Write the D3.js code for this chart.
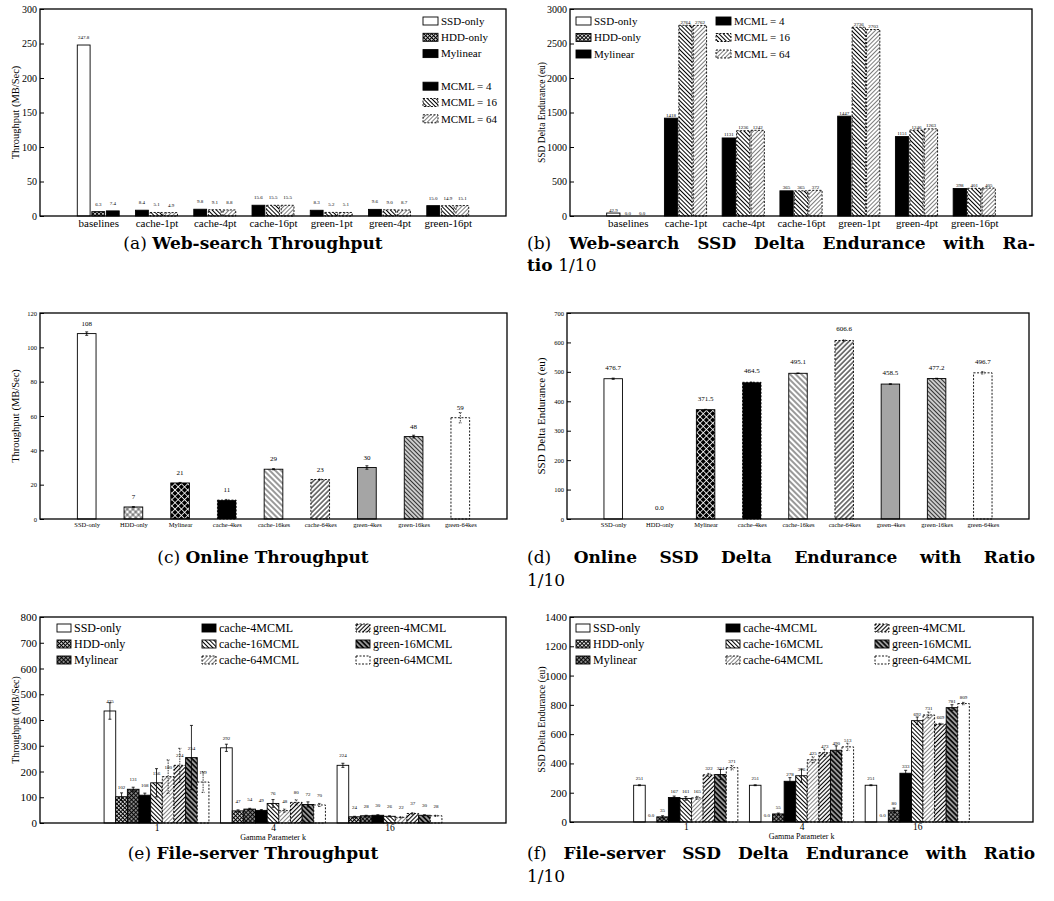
<!DOCTYPE html>
<html>
<head>
<meta charset="utf-8">
<script src="https://cdn.jsdelivr.net/npm/d3@7"></script>
<style>
  body { margin: 0; background: #fff; }
</style>
</head>
<body>
<svg id="fig" width="1054" height="901"></svg>
<script>
// ---- data ----
const webGroups = ["baselines", "cache-1pt", "cache-4pt", "cache-16pt", "green-1pt", "green-4pt", "green-16pt"];
const webKeysBase = ["SSD-only", "HDD-only", "Mylinear"];
const webKeysMcml = ["MCML = 4", "MCML = 16", "MCML = 64"];
const webThroughput = [[247.8, 6.3, 7.4], [8.4, 5.1, 4.9], [9.8, 9.1, 8.8], [15.6, 15.5, 15.5],
                       [8.3, 5.2, 5.1], [9.6, 9.0, 8.7], [15.0, 14.9, 15.1]];
const webEndurance = [[42.9, 0.0, 0.0], [1418, 2764, 2762], [1131, 1236, 1242], [365, 365, 372],
                      [1447, 2736, 2703], [1151, 1246, 1263], [398, 401, 405]];

const onlineCats = ["SSD-only", "HDD-only", "Mylinear", "cache-4kes", "cache-16kes", "cache-64kes", "green-4kes", "green-16kes", "green-64kes"];
const onlineThroughput = [108, 7, 21, 11, 29, 23, 30, 48, 59];
const onlineThroughputErr = [1, 0.2, 0.3, 0.4, 0.3, 0.3, 1, 0.8, 3];
const onlineEndurance = [476.7, 0.0, 371.5, 464.5, 495.1, 606.6, 458.5, 477.2, 496.7];
const onlineEnduranceErr = [2, 0, 1, 1, 1, 2, 1, 1, 4];

const gammaK = ["1", "4", "16"];
const fileSeries = ["SSD-only", "HDD-only", "Mylinear", "cache-4MCML", "cache-16MCML", "cache-64MCML", "green-4MCML", "green-16MCML", "green-64MCML"];
const fileThroughput = [[435, 102, 131, 108, 156, 180, 224, 254, 159],
                        [292, 47, 54, 49, 76, 48, 80, 72, 70],
                        [224, 24, 28, 30, 26, 22, 37, 30, 28]];
const fileThroughputErr = [[32, 15, 8, 8, 55, 65, 66, 125, 40],
                           [14, 4, 3, 3, 15, 6, 10, 10, 6],
                           [8, 2, 2, 2, 2, 2, 3, 2, 2]];
const fileEndurance = [[251, 0, 35, 167, 161, 165, 322, 324, 371],
                       [251, 0, 55, 278, 316, 425, 473, 490, 513],
                       [251, 0, 80, 333, 692, 731, 669, 781, 809]];
const fileEnduranceErr = [[3, 0, 8, 10, 12, 10, 10, 35, 15],
                          [3, 0, 6, 25, 45, 20, 25, 30, 25],
                          [3, 0, 15, 20, 25, 20, 5, 20, 8]];

const serif = "Liberation Serif, Times New Roman, serif";
const capFont = "DejaVu Serif, serif";

const svg = d3.select("#fig");
svg.append("rect").attr("width", 1054).attr("height", 901).attr("fill", "#fff");
const defs = svg.append("defs");

// fill patterns
function hatch(id, angle, gap, w, color, bg, both) {
  const p = defs.append("pattern").attr("id", id).attr("patternUnits", "userSpaceOnUse")
    .attr("width", gap).attr("height", gap).attr("patternTransform", `rotate(${angle})`);
  p.append("rect").attr("width", gap).attr("height", gap).attr("fill", bg);
  p.append("line").attr("x1", gap / 2).attr("x2", gap / 2).attr("y1", 0).attr("y2", gap)
    .attr("stroke", color).attr("stroke-width", w);
  if (both) p.append("line").attr("y1", gap / 2).attr("y2", gap / 2).attr("x1", 0).attr("x2", gap)
    .attr("stroke", color).attr("stroke-width", w);
}
hatch("chk", 45, 2.8, 1.1, "#000", "#fff", true);
hatch("bk", -45, 3, 1, "#000", "#fff");
hatch("fwLight", 45, 3, 0.7, "#444", "#fff");
hatch("cHdd", 45, 4, 0.6, "#000", "#fff", true);
hatch("cMyl", 45, 4.5, 0.8, "#fff", "#000", true);
hatch("c16", -45, 4, 0.8, "#000", "#fff");
hatch("c64", 45, 3.5, 1, "#000", "#fff");
hatch("cG4", 45, 2, 0.6, "#777", "#b8b8b8");
hatch("cG16", -45, 3, 0.9, "#222", "#ccc");
hatch("fMyl", 45, 3, 0.9, "#000", "#888", true);
hatch("f64", 45, 3, 0.8, "#666", "#fff");
hatch("fG4", 45, 3, 1.1, "#000", "#fff");
hatch("fG16", -45, 3.5, 1.6, "#000", "#999");

const dash = "2,1.5";
const webBaseSt = [{ fill: "#fff" }, { fill: "url(#chk)" }, { fill: "#000" }];
const webMcmlSt = [{ fill: "#000" }, { fill: "url(#bk)", dash }, { fill: "url(#fwLight)", dash }];
const onlineSt = [{ fill: "#fff" }, { fill: "url(#cHdd)" }, { fill: "url(#cMyl)" }, { fill: "#000", dash },
  { fill: "url(#c16)" }, { fill: "url(#c64)", dash }, { fill: "url(#cG4)" }, { fill: "url(#cG16)" }, { fill: "#fff", dash }];
const fileSt = [{ fill: "#fff" }, { fill: "url(#chk)" }, { fill: "url(#fMyl)" }, { fill: "#000" },
  { fill: "url(#bk)" }, { fill: "url(#f64)", dash }, { fill: "url(#fG4)", dash }, { fill: "url(#fG16)" }, { fill: "#fff", dash }];

function panel(p) {
  const g = svg.append("g").attr("font-family", serif);
  const x = d3.scaleLinear().domain(p.xdom).range([p.x0, p.x1]);
  const y = d3.scaleLinear().domain([0, p.ymax]).range([p.y1, p.y0]);
  const ya = g.append("g").attr("transform", `translate(${p.x0},0)`)
    .call(d3.axisLeft(y).tickValues(d3.range(0, p.ymax + 1e-9, p.step)).tickSize(-4).tickPadding(3).tickFormat(d3.format("d")));
  ya.attr("font-family", serif).attr("font-size", p.tickFont);
  ya.select(".domain").remove();
  const xa = g.append("g").attr("transform", `translate(0,${p.y1})`)
    .call(d3.axisBottom(x).tickValues(d3.range(p.cats.length)).tickFormat(i => p.cats[i]).tickSize(0).tickPadding(p.xPad));
  xa.attr("font-family", serif).attr("font-size", p.xFont);
  xa.select(".domain").remove();
  const layer = g.append("g");
  g.append("rect").attr("x", p.x0).attr("y", p.y0).attr("width", p.x1 - p.x0).attr("height", p.y1 - p.y0)
    .attr("fill", "none").attr("stroke", "#000").attr("stroke-width", 1.3);
  g.append("text").attr("transform", `translate(${p.ylx},${(p.y0 + p.y1) / 2}) rotate(-90)`)
    .attr("text-anchor", "middle").attr("font-size", p.ylFont).text(p.ylabel);
  if (p.xlabel) g.append("text").attr("x", (p.x0 + p.x1) / 2).attr("y", p.y1 + 17)
    .attr("text-anchor", "middle").attr("font-size", 8).text(p.xlabel);
  return { g, x, y, layer };
}

function drawBars(P, rows, bw, lab) {
  const { x, y, layer } = P;
  const w = x(bw) - x(0);
  const bar = layer.selectAll("g.bar").data(rows).join("g").attr("class", "bar");
  bar.append("rect")
    .attr("x", d => x(d.pos) - w / 2).attr("y", d => y(d.v))
    .attr("width", w).attr("height", d => y(0) - y(d.v))
    .attr("fill", d => d.st.fill).attr("stroke", "#000").attr("stroke-width", 0.9)
    .attr("stroke-dasharray", d => d.st.dash || null);
  bar.filter(d => d.e > 0).append("path")
    .attr("d", d => {
      const cx = x(d.pos), a = y(d.v + d.e), b = y(Math.max(0, d.v - d.e)), c = lab.cap;
      return `M${cx},${a}V${b}M${cx - c},${a}h${2 * c}M${cx - c},${b}h${2 * c}`;
    })
    .attr("stroke", "#000").attr("fill", "none").attr("stroke-width", 0.8)
    .attr("stroke-dasharray", d => d.st.dash ? "1.5,1" : null);
  bar.append("text").attr("x", d => x(d.pos)).attr("y", d => y(d.v) - lab.dy)
    .attr("text-anchor", "middle").attr("font-size", lab.size).text(lab.fmt);
}

function legend(g, items, sw, sh, size) {
  const it = g.selectAll(null).data(items).join("g");
  it.append("rect").attr("x", d => d.x).attr("y", d => d.y - sh / 2).attr("width", sw).attr("height", sh)
    .attr("fill", d => d.st.fill).attr("stroke", "#000").attr("stroke-width", 0.9)
    .attr("stroke-dasharray", d => d.st.dash || null);
  it.append("text").attr("x", d => d.x + sw + 3).attr("y", d => d.y).attr("dy", "0.35em")
    .attr("font-size", size).text(d => d.label);
}

// ---- (a) web-search throughput ----
const A = panel({ x0: 40, x1: 506, y0: 9, y1: 216, ymax: 300, step: 50, xdom: [-1, 7], cats: webGroups,
  tickFont: 10, xFont: 11, xPad: 3, ylabel: "Throughput (MB/Sec)", ylx: 19, ylFont: 10.5 });
drawBars(A, webThroughput.flatMap((grp, gi) => grp.map((v, si) =>
  ({ pos: gi + (si - 1) * 0.25, v, e: 0, st: gi === 0 ? webBaseSt[si] : webMcmlSt[si] }))),
  0.22, { size: 5, dy: 6, cap: 1.5, fmt: d => d3.format(".1f")(d.v) });
legend(A.g, webKeysBase.map((k, i) => ({ x: 423, y: 21 + 16.3 * i, label: k, st: webBaseSt[i] }))
  .concat(webKeysMcml.map((k, i) => ({ x: 423, y: 21 + 16.3 * (i + 4), label: k, st: webMcmlSt[i] }))), 15, 8, 11);

// ---- (b) web-search endurance ----
const B = panel({ x0: 570, x1: 1032, y0: 9, y1: 216, ymax: 3000, step: 500, xdom: [-1, 7], cats: webGroups,
  tickFont: 10, xFont: 11, xPad: 3, ylabel: "SSD Delta Endurance (eu)", ylx: 545, ylFont: 9.5 });
drawBars(B, webEndurance.flatMap((grp, gi) => grp.map((v, si) =>
  ({ pos: gi + (si - 1) * 0.25, v, e: 0, st: gi === 0 ? webBaseSt[si] : webMcmlSt[si], gi }))),
  0.23, { size: 5, dy: 1.5, cap: 1.5, fmt: d => d.gi === 0 ? d3.format(".1f")(d.v) : d3.format("d")(d.v) });
legend(B.g, webKeysBase.map((k, i) => ({ x: 576, y: 21 + 16.5 * i, label: k, st: webBaseSt[i] }))
  .concat(webKeysMcml.map((k, i) => ({ x: 716, y: 21 + 16.5 * i, label: k, st: webMcmlSt[i] }))), 15, 8, 11);

// ---- (c) online throughput ----
const C = panel({ x0: 40, x1: 507, y0: 313, y1: 519, ymax: 120, step: 20, xdom: [-1, 9], cats: onlineCats,
  tickFont: 6.5, xFont: 6.5, xPad: 3, ylabel: "Throughput (MB/Sec)", ylx: 19, ylFont: 10.5 });
drawBars(C, onlineThroughput.map((v, i) => ({ pos: i, v, e: onlineThroughputErr[i], st: onlineSt[i] })),
  0.4, { size: 7, dy: 8, cap: 1.5, fmt: d => d3.format("d")(d.v) });

// ---- (d) online endurance ----
const D = panel({ x0: 567, x1: 1029, y0: 313, y1: 519, ymax: 700, step: 100, xdom: [-1, 9], cats: onlineCats,
  tickFont: 6.5, xFont: 6.5, xPad: 3, ylabel: "SSD Delta Endurance (eu)", ylx: 545, ylFont: 11 });
drawBars(D, onlineEndurance.map((v, i) => ({ pos: i, v, e: onlineEnduranceErr[i], st: onlineSt[i] })),
  0.4, { size: 7, dy: 9, cap: 1.5, fmt: d => d3.format(".1f")(d.v) });

// ---- (e) file-server throughput ----
const E = panel({ x0: 40, x1: 506, y0: 617, y1: 823, ymax: 800, step: 100, xdom: [-1, 3], cats: gammaK,
  tickFont: 11, xFont: 9.5, xPad: 1, ylabel: "Throughput (MB/Sec)", ylx: 19, ylFont: 9.8, xlabel: "Gamma Parameter k" });
drawBars(E, fileThroughput.flatMap((grp, gi) => grp.map((v, si) =>
  ({ pos: gi + (si - 4) * 0.1, v, e: fileThroughputErr[gi][si], st: fileSt[si] }))),
  0.1, { size: 5, dy: 8, cap: 1.5, fmt: d => d3.format("d")(d.v) });
legend(E.g, fileSeries.map((k, i) => ({ x: [57, 202, 356][Math.floor(i / 3)], y: 628 + 16 * (i % 3), label: k, st: fileSt[i] })), 14, 8, 12);

// ---- (f) file-server endurance ----
const F = panel({ x0: 570, x1: 1033, y0: 617, y1: 822, ymax: 1400, step: 200, xdom: [-1, 3], cats: gammaK,
  tickFont: 11, xFont: 9.5, xPad: 1, ylabel: "SSD Delta Endurance (eu)", ylx: 545, ylFont: 10, xlabel: "Gamma Parameter k" });
drawBars(F, fileEndurance.flatMap((grp, gi) => grp.map((v, si) =>
  ({ pos: gi + (si - 4) * 0.1, v, e: fileEnduranceErr[gi][si], st: fileSt[si] }))),
  0.1, { size: 5, dy: 5, cap: 1.5, fmt: d => d.v === 0 ? "0.0" : d3.format("d")(d.v) });
legend(F.g, fileSeries.map((k, i) => ({ x: [576, 726, 875][Math.floor(i / 3)], y: 628 + 16 * (i % 3), label: k, st: fileSt[i] })), 14, 8, 12);

// ---- captions ----
const capSize = 17;
function captionCentered(cx, y, tag, title) {
  const t = svg.append("text").attr("x", cx).attr("y", y).attr("text-anchor", "middle")
    .attr("font-family", capFont).attr("font-size", capSize);
  t.append("tspan").text(tag + " ");
  t.append("tspan").attr("font-weight", "bold").text(title);
}
function captionLine(x0, x1, y, words, justify) {
  const nodes = words.map(w => svg.append("text").attr("y", y).attr("font-family", capFont)
    .attr("font-size", capSize).attr("font-weight", w.b ? "bold" : "normal").text(w.t));
  const widths = nodes.map(n => n.node().getComputedTextLength());
  const total = d3.sum(widths);
  const gap = justify ? (x1 - x0 - total) / (words.length - 1) : capSize * 0.33;
  let cx = x0;
  nodes.forEach((n, i) => { n.attr("x", cx); cx += widths[i] + gap; });
}
const bw = s => s.split(" ").map(t => ({ t, b: true }));
captionCentered(253, 249, "(a)", "Web-search Throughput");
captionLine(527, 1035, 249, [{ t: "(b)" }].concat(bw("Web-search SSD Delta Endurance with Ra-")), true);
captionLine(527, 1035, 271, [{ t: "tio", b: true }, { t: "1/10" }], false);
captionCentered(263, 563, "(c)", "Online Throughput");
captionLine(527, 1035, 563, [{ t: "(d)" }].concat(bw("Online SSD Delta Endurance with Ratio")), true);
captionLine(527, 1035, 586, [{ t: "1/10" }], false);
captionCentered(253, 859, "(e)", "File-server Throughput");
captionLine(527, 1035, 859, [{ t: "(f)" }].concat(bw("File-server SSD Delta Endurance with Ratio")), true);
captionLine(527, 1035, 882, [{ t: "1/10" }], false);
</script>
</body>
</html>
